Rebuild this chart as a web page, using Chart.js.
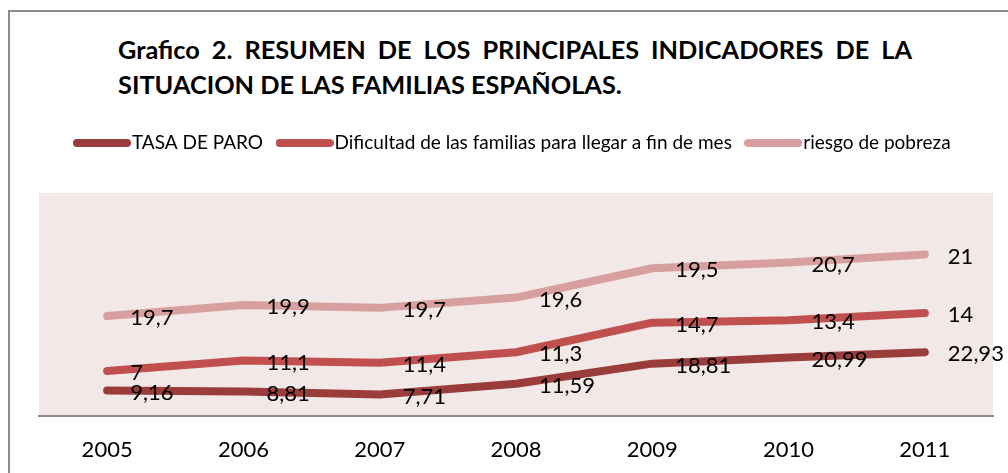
<!DOCTYPE html>
<html>
<head>
<meta charset="utf-8">
<script src="https://cdn.jsdelivr.net/npm/chart.js@4/dist/chart.umd.min.js"></script>
<style>
  html, body { margin: 0; padding: 0; background: #fff; }
  #wrap { position: relative; width: 1008px; height: 473px; overflow: hidden; }
  #frame { position: absolute; left: 8px; top: 10px; width: 1010px; height: 480px;
           border-top: 2px solid #8c8c8c; border-left: 2px solid #8c8c8c; box-sizing: border-box; }
  #title { position: absolute; left: 118px; top: 32px; width: 794px;
           font-family: Lato, "Open Sans", sans-serif; font-weight: 700; font-size: 25.3px; color: #000; }
  #title div { line-height: 35px; white-space: nowrap; }
  #title .l1 { text-align: justify; text-align-last: justify; white-space: normal; }
  canvas { position: absolute; left: 0; top: 0; }
</style>
</head>
<body>
<div id="wrap">
  <div id="frame"></div>
  <div id="title">
    <div class="l1">Grafico 2. RESUMEN DE LOS PRINCIPALES INDICADORES DE LA</div>
    <div>SITUACION DE LAS FAMILIAS ESPAÑOLAS.</div>
  </div>
  <canvas id="c" width="1008" height="473"></canvas>
</div>
<script>
const categories = ['2005', '2006', '2007', '2008', '2009', '2010', '2011'];
const seriesNames = ['TASA DE PARO', 'Dificultad de las familias para llegar a fin de mes', 'riesgo de pobreza'];
const tasaParo = [9.16, 8.81, 7.71, 11.59, 18.81, 20.99, 22.93];
const dificultad = [7, 11.1, 11.4, 11.3, 14.7, 13.4, 14];
const riesgoPobreza = [19.7, 19.9, 19.7, 19.6, 19.5, 20.7, 21];
const seriesColors = ['#993c3a', '#c0504d', '#d7a09e'];

const FONT = 'Lato, "Open Sans", sans-serif';

function legendImage(color) {
  const c = document.createElement('canvas');
  c.width = 58; c.height = 10;
  const g = c.getContext('2d');
  g.strokeStyle = color; g.lineWidth = 8; g.lineCap = 'round';
  g.beginPath(); g.moveTo(4, 5); g.lineTo(54, 5); g.stroke();
  return c;
}

const plotBg = {
  id: 'plotBg',
  beforeDraw(chart) {
    const a = chart.chartArea, ctx = chart.ctx;
    ctx.save();
    ctx.fillStyle = '#f2e8e8';
    ctx.fillRect(a.left, a.top, a.right - a.left, a.bottom - a.top);
    ctx.restore();
  }
};

const legendSpacer = {
  id: 'legendSpacer',
  beforeInit(chart) {
    const lg = chart.legend;
    const fit = lg.fit;
    lg.fit = function () { fit.call(this); this.height += 30.5; };
  }
};

const valueLabels = {
  id: 'valueLabels',
  afterDatasetsDraw(chart) {
    const ctx = chart.ctx;
    ctx.save();
    ctx.font = '22px ' + FONT;
    ctx.fillStyle = '#000';
    ctx.textAlign = 'left';
    ctx.textBaseline = 'middle';
    chart.data.datasets.forEach((ds, i) => {
      const meta = chart.getDatasetMeta(i);
      meta.data.forEach((pt, j) => {
        const txt = String(ds.data[j]).replace('.', ',');
        ctx.fillText(txt, pt.x + 23, pt.y + 2);
      });
    });
    ctx.restore();
  }
};

const datasets = [tasaParo, dificultad, riesgoPobreza].map((d, i) => ({
  label: seriesNames[i],
  data: d,
  borderColor: seriesColors[i],
  backgroundColor: seriesColors[i],
  borderWidth: 8,
  borderCapStyle: 'round',
  borderJoinStyle: 'round',
  pointRadius: 0,
  pointHoverRadius: 0,
  tension: 0,
  fill: false
}));

new Chart(document.getElementById('c'), {
  type: 'line',
  data: { labels: categories, datasets },
  options: {
    responsive: false,
    animation: false,
    layout: { padding: { left: 39, right: 15, top: 112.5, bottom: -11.5 } },
    plugins: {
      title: { display: false },
      tooltip: { enabled: false },
      legend: {
        display: true,
        position: 'top',
        align: 'center',
        labels: {
          usePointStyle: true,
          pointStyleWidth: 41,
          padding: 21,
          color: '#000',
          font: { family: FONT, size: 19 },
          generateLabels(chart) {
            return chart.data.datasets.map((ds, i) => ({
              text: ds.label,
              pointStyle: legendImage(seriesColors[i]),
              fillStyle: seriesColors[i],
              strokeStyle: seriesColors[i],
              lineWidth: 0,
              hidden: false,
              datasetIndex: i
            }));
          }
        }
      }
    },
    scales: {
      x: {
        type: 'category',
        offset: true,
        grid: { display: false, drawTicks: false },
        border: { display: true, color: '#8c8c8c', width: 2 },
        ticks: { color: '#000', font: { family: FONT, size: 22 }, padding: 21, maxRotation: 0, autoSkip: false }
      },
      y: {
        display: false,
        stacked: true,
        min: 0,
        max: 80
      }
    }
  },
  plugins: [plotBg, legendSpacer, valueLabels]
});
</script>
</body>
</html>
